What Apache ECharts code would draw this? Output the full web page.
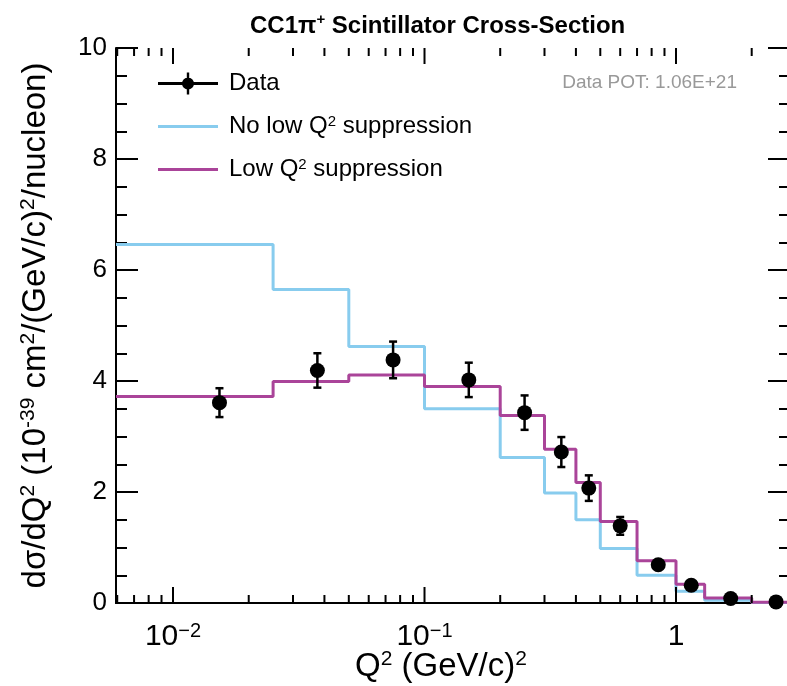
<!DOCTYPE html>
<html>
<head>
<meta charset="utf-8">
<script src="https://cdn.jsdelivr.net/npm/echarts@6/dist/echarts.min.js"></script>
<style>
html,body{margin:0;padding:0;background:#fff;}
#chart{width:787px;height:686px;}
</style>
</head>
<body>
<div id="chart"></div>
<script>
// ---- data ----
var binEdges = [0, 0.025, 0.05, 0.1, 0.2, 0.3, 0.4, 0.5, 0.7, 1.0, 1.3, 2.0, 3.0];
var noSuppression = [6.46, 5.65, 4.62, 3.50, 2.62, 1.98, 1.50, 0.98, 0.50, 0.21, 0.05, 0.01];
var lowSuppression = [3.72, 3.99, 4.11, 3.90, 3.38, 2.77, 2.17, 1.47, 0.76, 0.34, 0.09, 0.015];
var dataX = [0.0153, 0.0375, 0.075, 0.15, 0.25, 0.35, 0.45, 0.6, 0.85, 1.15, 1.65, 2.5];
var dataY = [3.61, 4.19, 4.38, 4.02, 3.43, 2.72, 2.07, 1.39, 0.69, 0.32, 0.08, 0.02];
var dataErr = [0.26, 0.31, 0.33, 0.31, 0.31, 0.27, 0.23, 0.16, 0.07, 0.04, 0.015, 0.005];
var majorXTicks = [0.01, 0.1, 1];
var minorXTicks = [0.006, 0.007, 0.008, 0.009, 0.02, 0.03, 0.04, 0.05, 0.06, 0.07, 0.08, 0.09,
                   0.2, 0.3, 0.4, 0.5, 0.6, 0.7, 0.8, 0.9, 2];
var yTickLabels = ['0', '2', '4', '6', '8', '10'];

var xMin = 0.005933, xMax = 2.84, yMin = 0, yMax = 10;
var FONT = 'Liberation Sans, Arial, Helvetica, sans-serif';

function histPoints(vals) {
  var pts = [];
  for (var i = 0; i < vals.length; i++) {
    pts.push([Math.max(binEdges[i], xMin), vals[i]]);
  }
  pts.push([binEdges[vals.length], vals[vals.length - 1]]);
  return pts;
}

var points = dataX.map(function (x, i) { return [x, dataY[i], dataErr[i]]; });
var tickData = majorXTicks.map(function (v) { return [v, 1]; })
  .concat(minorXTicks.map(function (v) { return [v, 0]; }));

var chart = echarts.init(document.getElementById('chart'), null, {renderer: 'canvas'});

function sup(size, bold) {
  return {sup: {fontSize: size, fontFamily: FONT, fontWeight: bold ? 'bold' : 'normal',
    verticalAlign: 'top', lineHeight: size, color: '#000'}};
}

function xLabel(v) {
  var l = Math.log10(v);
  var r = Math.round(l);
  if (Math.abs(l - r) > 1e-6) return '';
  if (r === 0) return '1';
  return '10{sup|\u2212' + Math.abs(r) + '}';
}

var lineIcon = 'path://M0,9.5 L60,9.5 L60,12.5 L0,12.5 Z';

var option = {
  backgroundColor: '#fff',
  animation: false,
  title: {
    text: 'CC1\u03c0{sup|+} Scintillator Cross-Section',
    left: 245,
    top: 7,
    textStyle: {
      fontFamily: FONT, fontWeight: 'bold', fontSize: 24, color: '#000', lineHeight: 28,
      rich: sup(15, true)
    }
  },
  grid: {left: 116, right: -3, top: 48, bottom: 83, containLabel: false, outerBoundsMode: 'none'},
  legend: {
    orient: 'vertical',
    left: 158, top: 71.5, padding: 0,
    itemWidth: 60, itemHeight: 22, itemGap: 19,
    selectedMode: false,
    textStyle: {
      fontFamily: FONT, fontSize: 24, color: '#000', padding: [0, 0, 0, 6], lineHeight: 24,
      rich: sup(15)
    },
    data: [
      {name: 'Data', icon: 'path://M0,9.5 L60,9.5 L60,12.5 L0,12.5 Z M28.8,0 L31.2,0 L31.2,22 L28.8,22 Z M36,11 A6,6 0 1 1 24,11 A6,6 0 1 1 36,11 Z',
        itemStyle: {color: '#000'}},
      {name: 'No low Q{sup|2} suppression', icon: lineIcon, itemStyle: {color: '#88CCEE'}},
      {name: 'Low Q{sup|2} suppression', icon: lineIcon, itemStyle: {color: '#AA4499'}}
    ]
  },
  graphic: [{
    type: 'text',
    right: 50, top: 73,
    style: {text: 'Data POT: 1.06E+21', fontFamily: FONT, fontSize: 19, fill: '#999999'}
  }],
  xAxis: [{
    type: 'log', logBase: 10, min: xMin, max: xMax,
    position: 'bottom',
    name: 'Q{sup|2} (GeV/c){sup|2}',
    nameLocation: 'middle', nameGap: 46, nameMoveOverlap: false,
    nameTextStyle: {
      fontFamily: FONT, fontSize: 33, color: '#000', lineHeight: 36, padding: [0, 24, 0, 0],
      rich: sup(21)
    },
    axisLine: {show: true, lineStyle: {color: '#000', width: 2}},
    axisTick: {show: false},
    minorTick: {show: false},
    splitLine: {show: false},
    axisLabel: {
      formatter: xLabel, margin: 18,
      fontFamily: FONT, fontSize: 30, color: '#000', lineHeight: 32,
      showMinLabel: true, showMaxLabel: true,
      rich: sup(20)
    }
  }, {
    type: 'log', logBase: 10, min: xMin, max: xMax,
    position: 'top',
    axisLine: {show: true, lineStyle: {color: '#000', width: 2}},
    axisTick: {show: false}, axisLabel: {show: false}, splitLine: {show: false}
  }],
  yAxis: [{
    type: 'value', min: yMin, max: yMax, interval: 2,
    position: 'left',
    name: 'd\u03c3/dQ{sup|2} (10{sup|-39} cm{sup|2}/(GeV/c){sup|2}/nucleon)',
    nameLocation: 'middle', nameRotate: 90, nameGap: 62,
    nameTextStyle: {
      fontFamily: FONT, fontSize: 33, color: '#000', lineHeight: 36,
      rich: sup(21)
    },
    axisLine: {show: true, lineStyle: {color: '#000', width: 2}},
    axisTick: {show: true, inside: true, length: 22, lineStyle: {color: '#000', width: 2}},
    minorTick: {show: true, splitNumber: 4, length: 11, lineStyle: {color: '#000', width: 2}},
    splitLine: {show: false},
    axisLabel: {
      margin: 9, fontFamily: FONT, fontSize: 26, color: '#000',
      formatter: function (v) { return yTickLabels[Math.round(v / 2)]; }
    }
  }, {
    type: 'value', min: yMin, max: yMax, interval: 2,
    position: 'right',
    axisLine: {show: true, lineStyle: {color: '#000', width: 2}},
    axisTick: {show: true, inside: true, length: 22, lineStyle: {color: '#000', width: 2}},
    minorTick: {show: true, splitNumber: 4, length: 11, lineStyle: {color: '#000', width: 2}},
    splitLine: {show: false},
    axisLabel: {show: false}
  }],
  series: [
    {
      name: 'No low Q{sup|2} suppression',
      type: 'line', step: 'end', xAxisIndex: 0, yAxisIndex: 0,
      data: histPoints(noSuppression),
      symbol: 'none', showSymbol: false,
      lineStyle: {color: '#88CCEE', width: 3},
      itemStyle: {color: '#88CCEE'},
      clip: true, z: 3
    },
    {
      name: 'Low Q{sup|2} suppression',
      type: 'line', step: 'end', xAxisIndex: 0, yAxisIndex: 0,
      data: histPoints(lowSuppression),
      symbol: 'none', showSymbol: false,
      lineStyle: {color: '#AA4499', width: 3},
      itemStyle: {color: '#AA4499'},
      clip: true, z: 4
    },
    {
      name: 'Data',
      type: 'custom', xAxisIndex: 0, yAxisIndex: 0,
      data: points,
      encode: {x: 0, y: 1},
      itemStyle: {color: '#000'},
      z: 5,
      renderItem: function (params, api) {
        var x = api.value(0), y = api.value(1), e = api.value(2);
        var c = api.coord([x, y]);
        var top = api.coord([x, y + e]);
        var bot = api.coord([x, y - e]);
        var cap = 4;
        var st = {stroke: '#000', lineWidth: 2.5};
        return {
          type: 'group',
          children: [
            {type: 'line', shape: {x1: top[0], y1: top[1], x2: bot[0], y2: bot[1]}, style: st},
            {type: 'line', shape: {x1: top[0] - cap, y1: top[1], x2: top[0] + cap, y2: top[1]}, style: st},
            {type: 'line', shape: {x1: bot[0] - cap, y1: bot[1], x2: bot[0] + cap, y2: bot[1]}, style: st},
            {type: 'circle', shape: {cx: c[0], cy: c[1], r: 7.5}, style: {fill: '#000'}}
          ]
        };
      }
    },
    {
      name: 'xticks',
      type: 'custom', xAxisIndex: 0, yAxisIndex: 0,
      data: tickData, silent: true, z: 6,
      encode: {x: 0},
      renderItem: function (params, api) {
        var v = api.value(0), major = api.value(1) === 1;
        var len = major ? 16 : 8;
        var b = api.coord([v, yMin]);
        var t = api.coord([v, yMax]);
        var st = {stroke: '#000', lineWidth: 2};
        return {
          type: 'group',
          children: [
            {type: 'line', shape: {x1: b[0], y1: b[1], x2: b[0], y2: b[1] - len}, style: st},
            {type: 'line', shape: {x1: t[0], y1: t[1], x2: t[0], y2: t[1] + len}, style: st}
          ]
        };
      }
    }
  ]
};

chart.setOption(option);
</script>
</body>
</html>
